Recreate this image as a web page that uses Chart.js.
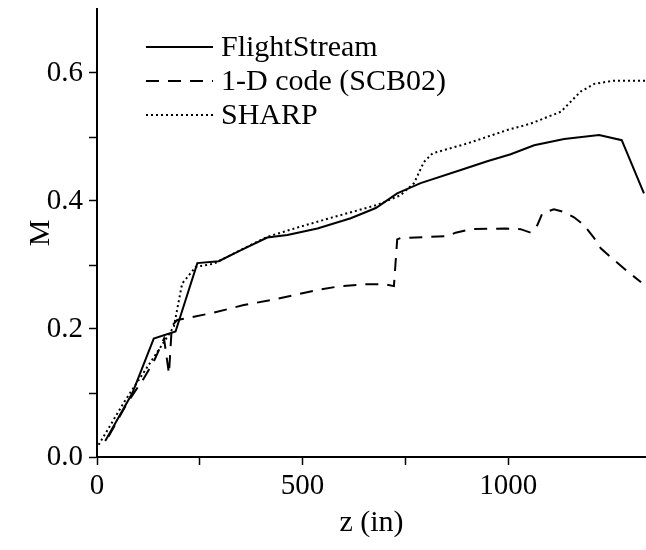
<!DOCTYPE html>
<html>
<head>
<meta charset="utf-8">
<script src="https://cdn.jsdelivr.net/npm/chart.js@4.4.1/dist/chart.umd.min.js"></script>
<style>
  html, body { margin: 0; padding: 0; background: #fff; }
  #wrap { width: 646px; height: 550px; }
</style>
</head>
<body>
<div id="wrap"><canvas id="chartM" width="646" height="550"></canvas></div>
<script>
// values: z (in) and Mach number M
const flightZ = [20, 86, 138, 191, 244, 296, 349, 414, 463, 536, 617, 678, 730, 787, 892, 949, 1006, 1063, 1136, 1221, 1276, 1330];
const flightM = [0.025, 0.100, 0.185, 0.196, 0.303, 0.306, 0.323, 0.343, 0.347, 0.357, 0.373, 0.389, 0.412, 0.428, 0.450, 0.462, 0.473, 0.487, 0.497, 0.503, 0.495, 0.412];

const codeZ = [28, 73, 114, 140, 163, 175, 182, 195, 284, 357, 422, 479, 536, 592, 657, 700, 722, 730, 738, 811, 852, 872, 909, 994, 1030, 1055, 1071, 1083, 1111, 1136, 1160, 1184, 1209, 1225, 1257, 1290, 1323];
const codeM = [0.032, 0.084, 0.123, 0.152, 0.185, 0.130, 0.205, 0.214, 0.2255, 0.2375, 0.245, 0.253, 0.261, 0.267, 0.270, 0.270, 0.267, 0.340, 0.342, 0.344, 0.345, 0.3505, 0.356, 0.357, 0.356, 0.3505, 0.3625, 0.381, 0.387, 0.383, 0.3745, 0.3625, 0.342, 0.326, 0.308, 0.290, 0.273];

const sharpZ = [4, 69, 130, 163, 187, 207, 240, 284, 357, 414, 495, 576, 682, 738, 771, 795, 816, 901, 998, 1055, 1128, 1176, 1209, 1257, 1334];
const sharpM = [0.019, 0.089, 0.148, 0.180, 0.204, 0.271, 0.297, 0.302, 0.326, 0.344, 0.360, 0.375, 0.394, 0.409, 0.428, 0.461, 0.4745, 0.490, 0.511, 0.521, 0.5395, 0.571, 0.583, 0.588, 0.588];

const seriesNames = ["FlightStream", "1-D code (SCB02)", "SHARP"];
const xTicks = [0, 250, 500, 750, 1000];
const yTicks = [0, 0.1, 0.2, 0.3, 0.4, 0.5, 0.6];

const serif = "'Liberation Serif', 'Times New Roman', serif";

function pts(xs, ys) {
  return xs.map((x, i) => ({ x: x, y: ys[i] }));
}

// legend drawn inside the plot, upper left
const insideLegend = {
  id: "insideLegend",
  afterDraw(chart) {
    const ctx = chart.ctx;
    const rows = [47, 81, 115];
    ctx.save();
    chart.data.datasets.forEach((ds, i) => {
      const y = rows[i];
      ctx.beginPath();
      ctx.setLineDash(ds.borderDash || []);
      ctx.lineWidth = ds.borderWidth;
      ctx.strokeStyle = "#000";
      ctx.moveTo(146, y);
      ctx.lineTo(213, y);
      ctx.stroke();
      ctx.setLineDash([]);
      ctx.fillStyle = "#000";
      ctx.font = "30px " + serif;
      ctx.textBaseline = "middle";
      ctx.fillText(ds.label, 221, y + 1);
    });
    ctx.restore();
  },
};

const data = {
  datasets: [
    {
      label: seriesNames[0],
      data: pts(flightZ, flightM),
      borderColor: "#000",
      borderWidth: 2,
      pointRadius: 0,
      tension: 0,
    },
    {
      label: seriesNames[1],
      data: pts(codeZ, codeM),
      borderColor: "#000",
      borderWidth: 2,
      borderDash: [13, 9],
      pointRadius: 0,
      tension: 0,
    },
    {
      label: seriesNames[2],
      data: pts(sharpZ, sharpM),
      borderColor: "#000",
      borderWidth: 2,
      borderDash: [2, 3],
      pointRadius: 0,
      tension: 0,
    },
  ],
};

const config = {
  type: "line",
  data,
  plugins: [insideLegend],
  options: {
    responsive: false,
    animation: false,
    layout: { padding: { top: 9, right: 0, bottom: 0, left: 0 } },
    plugins: {
      legend: { display: false },
      tooltip: { enabled: false },
    },
    scales: {
      x: {
        type: "linear",
        min: 0,
        max: 1335,
        afterBuildTicks: (scale) => {
          scale.ticks = xTicks.map((v) => ({ value: v }));
        },
        afterFit: (scale) => {
          scale.height = 93;
          scale.paddingLeft = 0;
          scale.paddingRight = 0;
        },
        border: { display: true, color: "#000", width: 2 },
        grid: {
          drawOnChartArea: false,
          drawTicks: true,
          tickLength: 8,
          tickColor: "#000",
          tickWidth: 1.5,
        },
        ticks: {
          color: "#000",
          font: { family: serif, size: 29 },
          padding: 4,
          maxRotation: 0,
          callback: (v) => (v % 500 === 0 ? v : ""),
        },
        title: {
          display: true,
          text: "z (in)",
          color: "#000",
          font: { family: serif, size: 30, lineHeight: 1 },
          padding: { top: 0, bottom: 12 },
        },
      },
      y: {
        type: "linear",
        min: 0,
        max: 0.7,
        afterBuildTicks: (scale) => {
          scale.ticks = yTicks.map((v) => ({ value: v }));
        },
        afterFit: (scale) => {
          scale.width = 97;
          scale.paddingTop = 0;
          scale.paddingBottom = 0;
        },
        border: { display: true, color: "#000", width: 2 },
        grid: {
          drawOnChartArea: false,
          drawTicks: true,
          tickLength: 8,
          tickColor: "#000",
          tickWidth: 1.5,
        },
        ticks: {
          color: "#000",
          font: { family: serif, size: 29 },
          padding: 6,
          callback: (v) => {
            const k = Math.round(v * 10);
            if (k % 2 !== 0) return "";
            return (k / 10).toFixed(1);
          },
        },
        title: {
          display: true,
          text: "M",
          color: "#000",
          font: { family: serif, size: 30, lineHeight: 1 },
          padding: { top: 26, bottom: 0 },
        },
      },
    },
  },
};

const chartM = new Chart(document.getElementById("chartM"), config);
</script>
</body>
</html>
